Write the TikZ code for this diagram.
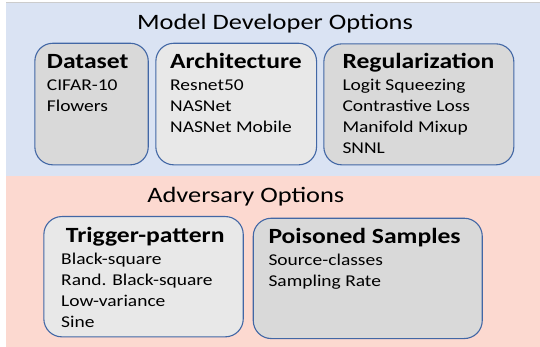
\documentclass[tikz,border=0pt]{standalone}
\usepackage{fontspec}
\setmainfont{Carlito}
\usepackage{graphicx}
\usetikzlibrary{positioning}

\definecolor{devBlue}{RGB}{218,227,243}
\definecolor{advPink}{RGB}{252,217,208}
\definecolor{boxLine}{RGB}{66,103,165}
\definecolor{boxDark}{RGB}{217,217,217}
\definecolor{boxLight}{RGB}{232,232,232}

% Calibri in the reference is set a little wide
\newcommand{\wide}[2][1.18]{\scalebox{#1}[1]{#2}}

\tikzset{
    optbox/.style={draw=boxLine, line width=1.1pt, rounded corners=18pt,
        inner sep=0pt, anchor=north west},
    head/.style={inner sep=0pt, font=\fontsize{21.7}{21}\selectfont\bfseries},
    items/.style={inner sep=0pt, font=\fontsize{16.5}{21}\selectfont},
    section/.style={inner sep=0pt, anchor=base, font=\fontsize{22}{26}\selectfont}
}

\begin{document}
\begin{tikzpicture}[x=1pt, y=-1pt]
        \useasboundingbox (0,0) rectangle (540,347);
        \fill[devBlue] (6,2) rectangle (540,176);
        \fill[advPink] (6,176) rectangle (540,347);
        \draw[black!20] (6,2) -- (540,2);

        % model developer side
        \node[section] (devTitle) at (275,29.3) {\wide[1.2]{Model Developer Options}};
        \node[optbox, fill=boxDark, minimum width=113.4pt, minimum height=121.6pt] (dataset) at (34.3,42.7) {};
        \node[optbox, fill=boxLight, minimum width=160.7pt, minimum height=121.6pt] (arch) at (155.3,42.7) {};
        \node[optbox, fill=boxDark, minimum width=190pt, minimum height=121pt] (reg) at (323.3,43.3) {};

        \node[head, below right=26.3pt and 12.4pt of dataset.north west, anchor=base west] (dataTitle) {\wide{Dataset}};
        \node[items, below=21.7pt of dataTitle.base west, anchor=base west] (dataItems) {\wide{\begin{tabular}[t]{@{}l@{}}
                CIFAR-10 \\
                Flowers
            \end{tabular}}};
        \node[head, below right=26.3pt and 14.7pt of arch.north west, anchor=base west] (archTitle) {\wide{Architecture}};
        \node[items, below=21.7pt of archTitle.base west, anchor=base west] (archItems) {\wide{\begin{tabular}[t]{@{}l@{}}
                Resnet50 \\
                NASNet \\
                NASNet Mobile
            \end{tabular}}};
        \node[head, below right=25.7pt and 19pt of reg.north west, anchor=base west] (regTitle) {\wide{Regularization}};
        \node[items, below=21.7pt of regTitle.base west, anchor=base west] (regItems) {\wide{\begin{tabular}[t]{@{}l@{}}
                Logit Squeezing \\
                Contrastive Loss \\
                Manifold Mixup \\
                SNNL
            \end{tabular}}};

        % adversary side
        \node[section] (advTitle) at (245.8,202.7) {\wide[1.2]{Adversary Options}};
        \node[optbox, fill=boxLight, minimum width=199.4pt, minimum height=120.3pt] (trigger) at (43.3,216) {};
        \node[optbox, fill=boxDark, minimum width=229pt, minimum height=120.3pt] (poisoned) at (252.7,217.7) {};

        \node[head, below right=26.7pt and 22.4pt of trigger.north west, anchor=base west] (trigTitle) {\wide{Trigger-pattern}};
        \node[items, below left=22pt and 4.7pt of trigTitle.base west, anchor=base west] (trigItems) {\wide{\begin{tabular}[t]{@{}l@{}}
                Black-square \\
                Rand. Black-square \\
                Low-variance \\
                Sine
            \end{tabular}}};
        \node[head, below right=26pt and 15.6pt of poisoned.north west, anchor=base west] (poisTitle) {\wide{Poisoned Samples}};
        \node[items, below=21.6pt of poisTitle.base west, anchor=base west] (poisItems) {\wide{\begin{tabular}[t]{@{}l@{}}
                Source-classes \\
                Sampling Rate
            \end{tabular}}};
    \end{tikzpicture}
\end{document}
